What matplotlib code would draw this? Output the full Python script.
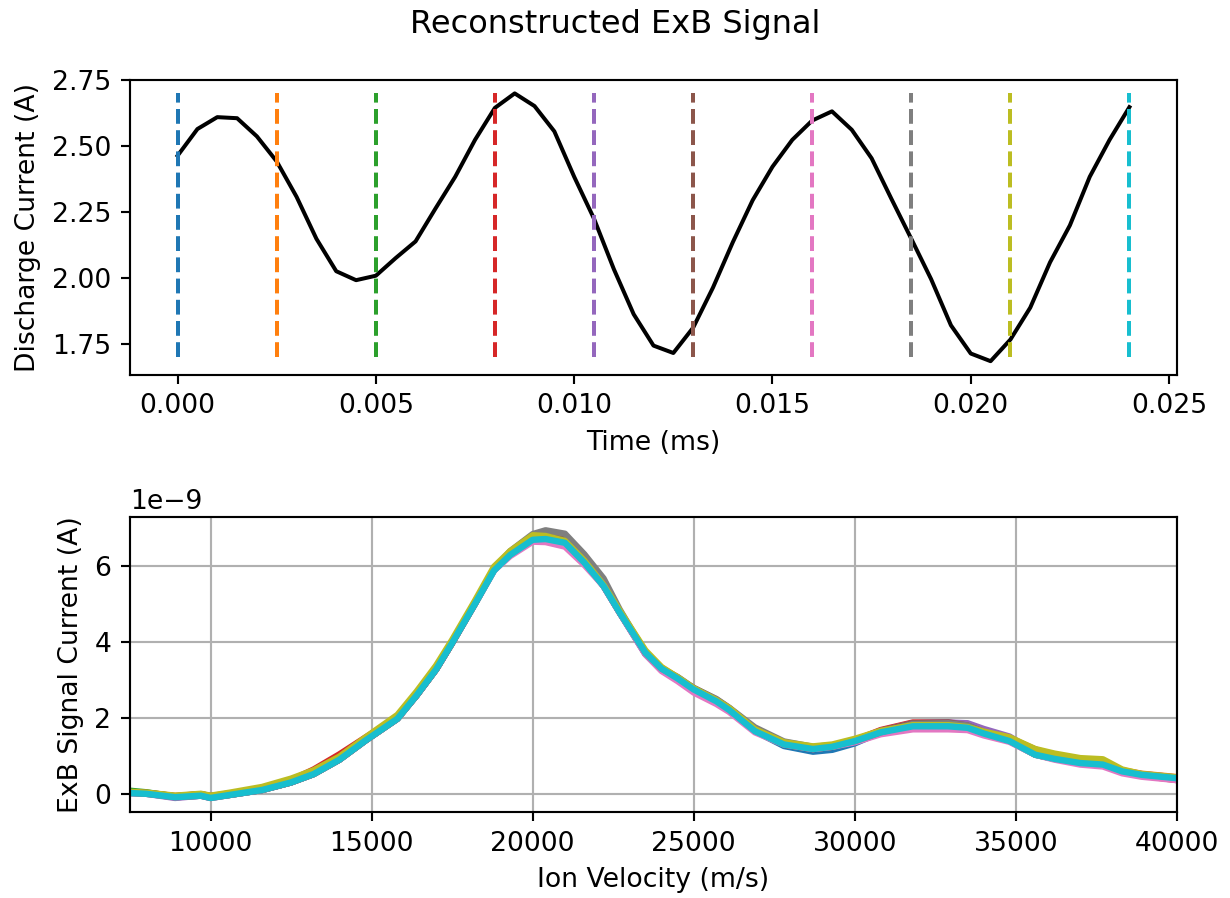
import numpy as np
import matplotlib
matplotlib.use("Agg")
import matplotlib.pyplot as plt

# discharge current trace, sampled every 0.0005 ms
time_ms = [0.0, 0.0005, 0.001, 0.0015, 0.002, 0.0025, 0.003, 0.0035, 0.004, 0.0045,
           0.005, 0.0055, 0.006, 0.0065, 0.007, 0.0075, 0.008, 0.0085, 0.009, 0.0095,
           0.010, 0.0105, 0.011, 0.0115, 0.012, 0.0125, 0.013, 0.0135, 0.014, 0.0145,
           0.015, 0.0155, 0.016, 0.0165, 0.017, 0.0175, 0.018, 0.0185, 0.019, 0.0195,
           0.020, 0.0205, 0.021, 0.0215, 0.022, 0.0225, 0.023, 0.0235, 0.024]
discharge = [2.464, 2.565, 2.610, 2.606, 2.537, 2.442, 2.308, 2.149, 2.026, 1.992,
             2.009, 2.076, 2.139, 2.263, 2.384, 2.524, 2.645, 2.700, 2.652, 2.556,
             2.384, 2.225, 2.034, 1.863, 1.744, 1.716, 1.812, 1.964, 2.136, 2.295,
             2.422, 2.524, 2.597, 2.632, 2.562, 2.454, 2.300, 2.149, 1.996, 1.821,
             1.714, 1.685, 1.767, 1.888, 2.060, 2.200, 2.384, 2.524, 2.648]

# times where the ExB traces were taken
sample_times = [0.0, 0.0025, 0.005, 0.008, 0.0105, 0.013, 0.016, 0.0185, 0.021, 0.024]

# ExB traces (units of 1e-9 A)
velocity = [7000, 7500, 8000, 8900, 9700, 10000, 10600, 11600, 12500, 13200,
            14000, 14800, 15800, 16400, 17000, 17500, 18200, 18800, 19300, 20000,
            20400, 21000, 21600, 22200, 22700, 23500, 24000, 24500, 25000, 25700,
            26100, 26900, 27800, 28700, 29300, 30000, 30800, 31800, 32900, 33500,
            34000, 34800, 35600, 36200, 37000, 37700, 38300, 38900, 40000, 40500]
exb_base = [0.05, 0.02, 0.00, -0.09, -0.05, -0.11, -0.03, 0.10, 0.30, 0.52,
            0.90, 1.40, 1.98, 2.60, 3.28, 3.98, 5.00, 5.89, 6.30, 6.70,
            6.72, 6.62, 6.10, 5.48, 4.78, 3.72, 3.30, 3.04, 2.75, 2.44,
            2.21, 1.65, 1.30, 1.18, 1.24, 1.39, 1.62, 1.78, 1.78, 1.74,
            1.59, 1.39, 1.03, 0.92, 0.81, 0.77, 0.59, 0.50, 0.41, 0.38]

# deviation of each trace from the base
dev_c0 = [0.02, 0.03, 0.02, 0.0, 0.0, 0.02, 0.0, 0.0, 0.0, 0.0,
          0.0, 0.0, 0.0, 0.0, 0.0, 0.0, 0.0, 0.0, 0.03, 0.05,
          0.05, 0.05, 0.05, 0.0, 0.0, -0.04, -0.04, 0.0, 0.0, 0.0,
          0.0, 0.0, -0.04, -0.07, -0.08, -0.06, 0.0, 0.03, 0.03, 0.0,
          0.0, 0.0, 0.0, 0.0, 0.0, 0.0, 0.0, 0.0, 0.0, 0.0]
dev_c1 = [0.03, 0.03, 0.03, 0.03, 0.03, 0.03, 0.03, 0.03, 0.03, 0.03,
          0.03, 0.03, 0.03, 0.03, 0.03, 0.03, 0.03, 0.03, 0.05, 0.06,
          0.06, 0.06, 0.05, 0.03, 0.03, 0.03, 0.03, 0.03, 0.03, 0.03,
          0.03, 0.03, 0.03, 0.03, 0.03, 0.03, 0.03, 0.03, 0.03, 0.03,
          0.03, 0.03, 0.03, 0.03, 0.03, 0.03, 0.03, 0.03, 0.03, 0.03]
dev_c2 = [0.05, 0.06, 0.04, 0.02, 0.02, 0.02, 0.0, 0.0, 0.0, 0.0,
          0.0, 0.0, 0.0, 0.0, 0.0, 0.0, 0.0, 0.02, 0.06, 0.10,
          0.12, 0.12, 0.08, 0.04, 0.0, 0.0, 0.0, 0.0, 0.0, 0.0,
          0.0, 0.0, 0.0, 0.0, 0.0, 0.0, 0.04, 0.05, 0.05, 0.04,
          0.03, 0.0, 0.0, 0.0, 0.0, 0.0, 0.0, 0.0, 0.0, 0.0]
dev_c3 = [0.02, 0.02, 0.02, 0.02, 0.04, 0.05, 0.04, 0.04, 0.06, 0.12,
          0.14, 0.08, 0.04, 0.0, 0.0, 0.0, 0.04, 0.04, 0.04, 0.05,
          0.05, 0.05, 0.0, 0.0, 0.0, 0.0, 0.0, 0.0, 0.0, 0.0,
          0.0, 0.0, 0.0, 0.0, 0.0, 0.02, 0.06, 0.10, 0.10, 0.09,
          0.08, 0.08, 0.14, 0.10, 0.05, 0.02, 0.0, -0.02, -0.05, -0.05]
dev_c4 = [0.0, 0.0, 0.0, -0.02, 0.0, 0.0, 0.0, 0.0, 0.0, 0.0,
          0.0, 0.0, 0.0, 0.0, 0.0, 0.0, 0.0, 0.02, 0.05, 0.08,
          0.08, 0.06, 0.04, 0.0, 0.0, -0.03, 0.0, 0.0, 0.0, 0.0,
          0.0, 0.02, 0.02, 0.0, 0.0, 0.0, 0.04, 0.08, 0.10, 0.12,
          0.12, 0.12, 0.08, 0.04, 0.02, 0.0, 0.0, 0.0, 0.0, 0.0]
dev_c5 = [0.02, 0.02, 0.02, 0.03, 0.04, 0.05, 0.02, 0.0, 0.0, 0.0,
          0.0, 0.0, 0.0, 0.0, 0.0, 0.0, 0.02, 0.03, 0.05, 0.10,
          0.12, 0.12, 0.10, 0.05, 0.02, 0.0, 0.0, 0.0, 0.04, 0.05,
          0.05, 0.05, 0.05, 0.02, 0.0, 0.0, 0.04, 0.08, 0.10, 0.06,
          0.04, 0.04, 0.08, 0.08, 0.06, 0.02, 0.0, 0.0, 0.0, 0.0]
dev_c6 = [0.0, 0.0, 0.0, 0.0, 0.0, 0.0, 0.0, 0.0, 0.0, 0.0,
          0.0, 0.0, 0.0, 0.0, 0.0, 0.0, 0.0, 0.0, -0.03, -0.05,
          -0.08, -0.10, -0.06, 0.0, 0.0, -0.04, -0.06, -0.07, -0.08, -0.07,
          -0.05, -0.03, 0.0, 0.0, 0.0, -0.03, -0.05, -0.08, -0.08, -0.06,
          -0.05, -0.02, 0.0, -0.02, -0.04, -0.05, -0.05, -0.05, -0.05, -0.05]
dev_c7 = [0.0, 0.0, 0.0, 0.0, 0.0, 0.0, 0.0, 0.0, 0.0, 0.0,
          0.0, 0.0, 0.0, 0.0, 0.0, 0.0, 0.0, 0.04, 0.10, 0.15,
          0.23, 0.24, 0.22, 0.20, 0.08, 0.0, 0.0, 0.04, 0.04, 0.06,
          0.06, 0.10, 0.08, 0.06, 0.04, 0.0, 0.0, 0.06, 0.08, 0.06,
          0.04, 0.04, 0.10, 0.10, 0.08, 0.06, 0.02, 0.02, 0.02, 0.02]
dev_c8 = [0.03, 0.03, 0.03, 0.04, 0.05, 0.06, 0.06, 0.08, 0.10, 0.10,
          0.08, 0.08, 0.10, 0.10, 0.10, 0.08, 0.08, 0.10, 0.10, 0.12,
          0.08, 0.05, 0.05, 0.03, 0.05, 0.06, 0.04, 0.03, 0.03, 0.03,
          0.05, 0.05, 0.06, 0.07, 0.06, 0.06, 0.04, 0.03, 0.03, 0.02,
          0.05, 0.10, 0.15, 0.14, 0.13, 0.14, 0.05, 0.02, 0.02, 0.02]
dev_c9 = [0.0] * len(velocity)

deviations = [dev_c0, dev_c1, dev_c2, dev_c3, dev_c4, dev_c5, dev_c6, dev_c7, dev_c8, dev_c9]

fig, (ax1, ax2) = plt.subplots(2, 1, figsize=(1230 / 192, 898 / 192), dpi=192)
fig.subplots_adjust(left=0.1057, right=0.9569, top=0.9109, bottom=0.0958, hspace=0.485)
fig.suptitle('Reconstructed ExB Signal', y=0.99)

ax1.plot(time_ms, discharge, color='black')
for i, t in enumerate(sample_times):
    ax1.vlines(t, 1.7, 2.7, colors='C%d' % i, linestyles='dashed')
ax1.set_xlabel('Time (ms)')
ax1.set_ylabel('Discharge Current (A)')

base = np.array(exb_base)
for i, dev in enumerate(deviations):
    ax2.plot(velocity, (base + np.array(dev)) * 1e-9, color='C%d' % i, linewidth=2.4)
ax2.set_xlim(7500, 40000)
ax2.set_ylim(-0.48e-9, 7.29e-9)
ax2.grid(True)
ax2.set_xlabel('Ion Velocity (m/s)')
ax2.set_ylabel('ExB Signal Current (A)')

fig.savefig('out.png', dpi=192)
